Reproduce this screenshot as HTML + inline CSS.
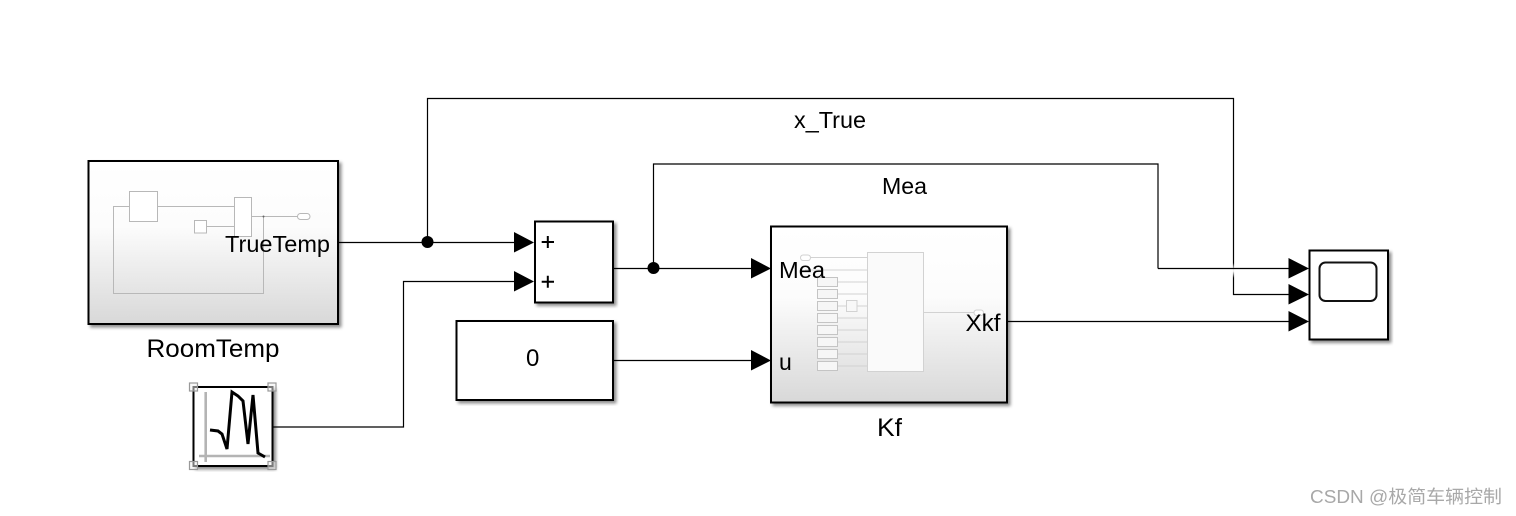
<!DOCTYPE html>
<html>
<head>
<meta charset="utf-8">
<style>
html,body{margin:0;padding:0;background:#fff;width:1516px;height:516px;overflow:hidden}
svg{display:block}
text{font-family:"Liberation Sans","Noto Sans CJK SC",sans-serif;fill:#000}
</style>
</head>
<body>
<svg width="1516" height="516" viewBox="0 0 1516 516" xmlns="http://www.w3.org/2000/svg">
<defs>
<linearGradient id="g" x1="0" y1="0" x2="0" y2="1">
<stop offset="0" stop-color="#fff"/>
<stop offset="0.4" stop-color="#fcfcfc"/>
<stop offset="1" stop-color="#d8d8d8"/>
</linearGradient>
<linearGradient id="fade" x1="0" y1="0" x2="0" y2="1">
<stop offset="0" stop-color="#fff" stop-opacity="0"/>
<stop offset="0.45" stop-color="#fff" stop-opacity="0.95"/>
<stop offset="0.55" stop-color="#fff" stop-opacity="0.95"/>
<stop offset="1" stop-color="#fff" stop-opacity="0"/>
</linearGradient>
<filter id="s" x="-5%" y="-5%" width="112%" height="112%">
<feDropShadow dx="2.5" dy="2.5" stdDeviation="1.5" flood-color="#000" flood-opacity="0.45"/>
</filter>
</defs>

<!-- blocks -->
<rect x="88.5" y="161" width="249.5" height="163" fill="url(#g)" stroke="#000" stroke-width="2" filter="url(#s)"/>
<rect x="535" y="221.5" width="78" height="81" fill="#fff" stroke="#000" stroke-width="2" filter="url(#s)"/>
<rect x="456.5" y="321" width="156.5" height="79" fill="#fff" stroke="#000" stroke-width="2" filter="url(#s)"/>
<rect x="771" y="226.5" width="236" height="176" fill="url(#g)" stroke="#000" stroke-width="2" filter="url(#s)"/>
<rect x="1309.5" y="250.5" width="78.5" height="89" fill="#fff" stroke="#000" stroke-width="2" filter="url(#s)"/>
<rect x="193.5" y="387" width="79" height="79" fill="#fff" stroke="#000" stroke-width="2" filter="url(#s)"/>

<!-- RoomTemp inner -->
<g fill="none" stroke="#b8b8b8" stroke-width="1">
<path d="M129.5 206.5H113.5V293.5H263.5V216.5M157.5 206.5H234.5M206.5 226.5H234.5M251.5 216.5H297.5"/>
<rect x="129.5" y="191.5" width="28" height="30" fill="#fff"/>
<rect x="194.5" y="220.5" width="12" height="12.5" fill="#fff"/>
<rect x="234.5" y="197.5" width="17" height="39" fill="#fff"/>
<rect x="297.5" y="213.5" width="12.5" height="6" rx="3" fill="#fff"/>
</g>
<circle cx="263.5" cy="216.5" r="1" fill="#666"/>

<!-- Kf inner -->
<g fill="none" stroke="#d2d2d2" stroke-width="1">
<path d="M810 257.5H867M805 270H867M837.5 282H867M837.5 294H867M837.5 306H846.5M856.5 306H867M837.5 318H867M837.5 330H867M837.5 342H867M837.5 354H867M837.5 366H867M923.5 312.5H975"/>
<rect x="867.5" y="252.5" width="56" height="119" fill="#fafafa"/>
<rect x="800.5" y="255" width="10" height="5.5" rx="2.7" fill="#fff"/>
<rect x="974" y="310" width="9.5" height="5.5" rx="2.7" fill="#fff"/>
<rect x="846.5" y="300.5" width="10.5" height="11" fill="#f8f8f8"/>
<g fill="#f6f6f6" stroke="#c4c4c4">
<rect x="817.5" y="277.5" width="20" height="9"/>
<rect x="817.5" y="289.5" width="20" height="9"/>
<rect x="817.5" y="301.5" width="20" height="9"/>
<rect x="817.5" y="313.5" width="20" height="9"/>
<rect x="817.5" y="325.5" width="20" height="9"/>
<rect x="817.5" y="337.5" width="20" height="9"/>
<rect x="817.5" y="349.5" width="20" height="9"/>
<rect x="817.5" y="361.5" width="20" height="9"/>
</g>
</g>

<!-- Scope screen -->
<rect x="1319.5" y="262.5" width="57" height="38.5" rx="6" fill="#fff" stroke="#111" stroke-width="2"/>

<!-- Signal builder -->
<path d="M205.7 392V462M199 456H270" fill="none" stroke="#b4b4b4" stroke-width="2.6"/>
<polyline points="210,430 218,431 222,434 227,449 232,392 238,396 243,401 248,444 253,395 258,453 265,457" fill="none" stroke="#000" stroke-width="3"/>
<g fill="#f2f2f2" fill-opacity="0.5" stroke="#999" stroke-width="1.2">
<rect x="189.5" y="383" width="8" height="8"/>
<rect x="268" y="383" width="8" height="8"/>
<rect x="189.5" y="461.5" width="8" height="8"/>
<rect x="268" y="461.5" width="8" height="8"/>
</g>

<!-- connectors -->
<g fill="none" stroke="#000" stroke-width="1.2">
<path d="M339 242.5H515"/>
<path d="M427.5 242V98.5H1233.5V294.5H1290"/>
<path d="M614 268.5H752"/>
<path d="M653.5 268V164H1158V268.5"/>
<path d="M273 427H403.5V281.5H515"/>
<path d="M614 360.5H752"/>
<path d="M1008 321.5H1290"/>
</g>
<rect x="1232" y="263" width="3.5" height="15" fill="url(#fade)"/>
<path d="M1158 268.5H1290" fill="none" stroke="#000" stroke-width="1.2"/>
<circle cx="427.5" cy="242" r="6" fill="#000"/>
<circle cx="653.5" cy="268" r="6" fill="#000"/>

<!-- arrowheads -->
<g fill="#000">
<polygon points="514,232 534,242.5 514,252.5"/>
<polygon points="514,271 534,281.5 514,291.5"/>
<polygon points="751,258 771,268.5 751,278.5"/>
<polygon points="751,350 771,360.5 751,370.5"/>
<polygon points="1288.5,258 1309,268.5 1288.5,278.5"/>
<polygon points="1288.5,284 1309,294.5 1288.5,304.5"/>
<polygon points="1288.5,311 1309,321.5 1288.5,331.5"/>
</g>

<!-- labels -->
<text x="225" y="252" font-size="23" textLength="105" lengthAdjust="spacingAndGlyphs">TrueTemp</text>
<text x="146.5" y="357" font-size="25" textLength="133" lengthAdjust="spacingAndGlyphs">RoomTemp</text>
<text x="794" y="128" font-size="23" textLength="72" lengthAdjust="spacingAndGlyphs">x_True</text>
<text x="882" y="194" font-size="23" textLength="45" lengthAdjust="spacingAndGlyphs">Mea</text>
<text x="877" y="436" font-size="25" textLength="25" lengthAdjust="spacingAndGlyphs">Kf</text>
<text x="526" y="366" font-size="24">0</text>
<text x="779" y="278" font-size="23" textLength="46" lengthAdjust="spacingAndGlyphs">Mea</text>
<text x="779" y="370" font-size="23">u</text>
<text x="965.5" y="331" font-size="24" textLength="35" lengthAdjust="spacingAndGlyphs">Xkf</text>
<path d="M541.7 242H554M547.8 236V248M541.7 281.7H554M547.8 275.7V287.7" fill="none" stroke="#000" stroke-width="2"/>
<text x="1310" y="503" font-size="18" textLength="192" lengthAdjust="spacingAndGlyphs" style="fill:#a8a8a8">CSDN @极简车辆控制</text>
</svg>
</body>
</html>
